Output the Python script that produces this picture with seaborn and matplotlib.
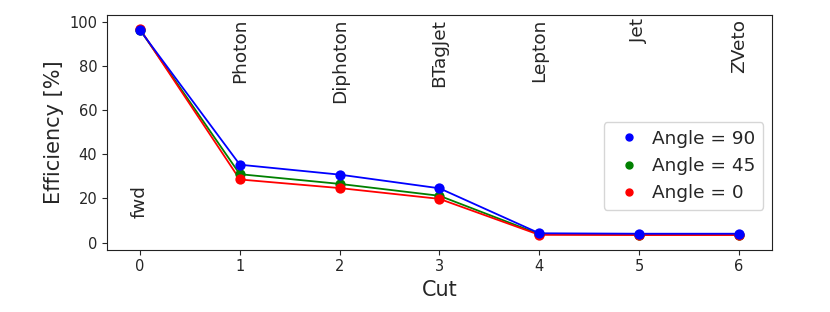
import pandas as pd
import matplotlib
matplotlib.use("Agg")
import matplotlib.pyplot as plt
import seaborn as sns

cuts = [0, 1, 2, 3, 4, 5, 6]
cut_names = ["fwd", "Photon", "Diphoton", "BTagJet", "Lepton", "Jet", "ZVeto"]
eff_90 = [96.3, 35.3, 30.8, 24.6, 4.2, 4.0, 4.0]
eff_45 = [96.5, 31.0, 26.6, 21.2, 3.8, 3.6, 3.6]
eff_0 = [96.8, 28.6, 24.7, 19.8, 3.5, 3.4, 3.4]
angles = ["Angle = 90", "Angle = 45", "Angle = 0"]
colors = {"Angle = 90": "blue", "Angle = 45": "green", "Angle = 0": "red"}

frames = []
for name, vals in zip(angles, [eff_90, eff_45, eff_0]):
    frames.append(pd.DataFrame({"Cut": cuts, "Efficiency": vals, "Angle": name}))
df = pd.concat(frames, ignore_index=True)

sns.set_style("ticks")
plt.rcParams["font.family"] = ["DejaVu Sans"]
plt.rcParams["axes.edgecolor"] = "#222222"

fig, ax = plt.subplots(figsize=(8.3, 3.12), dpi=100)
fig.subplots_adjust(left=0.129, right=0.93, top=0.952, bottom=0.2)

draw_order = ["Angle = 45", "Angle = 0", "Angle = 90"]
for name in draw_order:
    sub = df[df["Angle"] == name]
    sns.lineplot(data=sub, x="Cut", y="Efficiency", color=colors[name], lw=1.3, ax=ax, legend=False)
for name in draw_order:
    sub = df[df["Angle"] == name]
    sns.scatterplot(data=sub, x="Cut", y="Efficiency", color=colors[name], s=55, linewidth=0, ax=ax, zorder=3)

# cut labels
for c, lab in zip(cuts, cut_names):
    ytop = 26 if lab == "fwd" else 101.5
    ax.text(c, ytop, lab, rotation=90, ha="center", va="top", fontsize=13.3)

handles = [plt.Line2D([], [], marker="o", ls="", color=colors[a], markersize=5) for a in angles]
ax.legend(handles, angles, loc="lower right", bbox_to_anchor=(0.987, 0.17), borderaxespad=0,
          fontsize=13.3, handletextpad=0.25, handlelength=2.0)

ax.set_xlim(-0.33, 6.33)
ax.set_ylim(-3.2, 103.2)
ax.set_xticks(cuts)
ax.set_yticks([0, 20, 40, 60, 80, 100])
ax.tick_params(labelsize=10.5)
ax.set_xlabel("Cut", fontsize=15)
ax.set_ylabel("Efficiency [%]", fontsize=15)

fig.savefig("out.png", dpi=100)
